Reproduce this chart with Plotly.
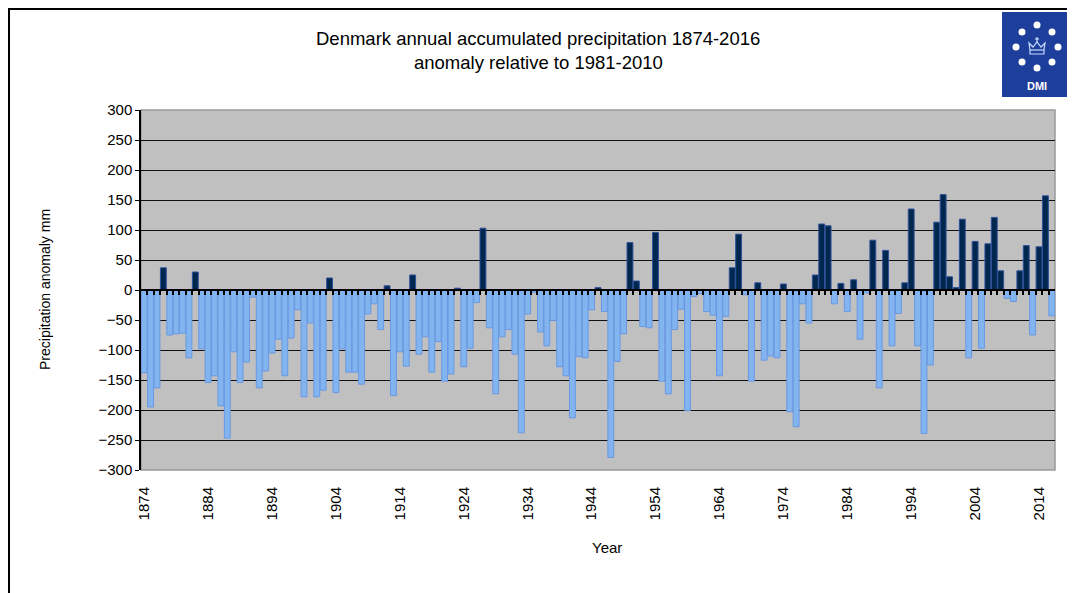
import plotly.graph_objects as go

# Denmark annual precipitation anomaly (mm) relative to 1981-2010
years = list(range(1874, 2017))
anomaly = [
    -138, -195, -163, 37, -75, -73, -72, -113, 30, -98,      # 1874-1883
    -154, -143, -193, -247, -103, -154, -120, -12, -163, -135,  # 1884-1893
    -105, -82, -143, -80, -33, -178, -55, -178, -167, 20,     # 1894-1903
    -171, -98, -137, -137, -157, -40, -23, -66, 7, -176,      # 1904-1913
    -103, -127, 25, -107, -78, -137, -86, -152, -140, 3,      # 1914-1923
    -128, -97, -21, 103, -63, -173, -78, -66, -107, -238,     # 1924-1933
    -40, -4, -70, -93, -51, -128, -143, -213, -111, -113,     # 1934-1943
    -33, 4, -36, -279, -119, -73, 79, 15, -61, -63,           # 1944-1953
    96, -152, -173, -66, -32, -201, -11, -6, -36, -42,        # 1954-1963
    -143, -44, 37, 93, -8, -152, 12, -117, -110, -113,        # 1964-1973
    10, -203, -228, -23, -55, 25, 110, 107, -23, 11,          # 1974-1983
    -36, 17, -82, -5, 83, -163, 66, -93, -39, 12,             # 1984-1993
    135, -93, -239, -125, 113, 159, 22, 4, 118, -113,         # 1994-2003
    81, -97, 77, 121, 32, -14, -19, 32, 74, -75,              # 2004-2013
    72, 157, -43,                                             # 2014-2016
]
label_years = list(range(1874, 2015, 10))
y_ticks = list(range(-300, 301, 50))

FONT = "Liberation Sans, Arial, sans-serif"
POS_FILL, POS_EDGE = "#00284f", "#2f4f9a"
NEG_FILL, NEG_EDGE = "#82b4ef", "#6a98e3"

fill = [POS_FILL if v > 0 else NEG_FILL for v in anomaly]
edge = [POS_EDGE if v > 0 else NEG_EDGE for v in anomaly]

# plot area in page pixels (page body adds an 8px offset)
L, T, W, H = 141, 110, 914, 360


def px(x):
    return (x - L) / W


def py(y):
    return 1 - (y - T) / H


fig = go.Figure()
fig.add_trace(go.Bar(x=years, y=anomaly, marker=dict(color=fill, line=dict(color=edge, width=1)),
                     showlegend=False, xaxis="x2"))
# invisible helper so the zero-line axis gets drawn
fig.add_trace(go.Scatter(x=[years[0]], y=[0], mode="markers", marker=dict(opacity=0),
                         showlegend=False, hoverinfo="skip", xaxis="x"))

xr = [years[0] - 0.5, years[-1] + 0.5]
fig.update_layout(
    width=1067, height=585,
    margin=dict(l=L - 8, r=1067 - (L - 8) - W, t=T - 8, b=585 - (T - 8) - H),
    paper_bgcolor="white", plot_bgcolor="#c0c0c0",
    font=dict(family=FONT, size=15, color="black"),
    bargap=0.08,
    # zero line with a tick between every year
    xaxis=dict(range=xr, anchor="free", position=0.5, showline=True, linecolor="black",
               linewidth=1.5, ticks="outside", ticklen=4, tickwidth=1.5, tickcolor="black",
               tickvals=[y + 0.5 for y in years[:-1]], showticklabels=False,
               showgrid=False, zeroline=False),
    # bottom axis carrying the year labels
    xaxis2=dict(range=xr, overlaying="x", anchor="y", side="bottom", showline=False,
                tickvals=label_years, ticktext=[str(y) for y in label_years], tickangle=-90,
                ticks="outside", ticklen=10, tickcolor="rgba(0,0,0,0)",
                showgrid=False, zeroline=False),
    yaxis=dict(range=[-300, 300], tickvals=y_ticks, showgrid=True, gridcolor="#111111",
               gridwidth=1, showline=True, linecolor="black", linewidth=1.5,
               ticks="outside", ticklen=4, tickcolor="black", zeroline=False),
)

shapes = [
    # plot area border
    dict(type="rect", xref="paper", yref="paper", x0=0, x1=1, y0=0, y1=1,
         line=dict(color="#999999", width=1.5), layer="below"),
    # outer chart border
    dict(type="rect", xref="paper", yref="paper", x0=px(9), x1=px(1100), y0=py(640), y1=py(9),
         line=dict(color="black", width=2)),
    # DMI logo
    dict(type="rect", xref="paper", yref="paper", x0=px(1002), x1=px(1072), y0=py(97), y1=py(12),
         fillcolor="#1d3e9b", line=dict(width=0)),
]
cx, cy = 1037, 47
dots = [(0, -22), (-15, -15), (15, -15), (-21, 0), (21, 0), (-15, 15), (15, 15), (0, 21)]
for dx, dy in dots:
    shapes.append(dict(type="circle", xref="paper", yref="paper",
                       x0=px(cx + dx - 3.5), x1=px(cx + dx + 3.5),
                       y0=py(cy + dy + 3.5), y1=py(cy + dy - 3.5),
                       fillcolor="white", line=dict(width=0)))
# crown outline
crown = [(-7, 7), (7, 7), (7, 3), (8, -4), (4, 0), (0, -5), (-4, 0), (-8, -4), (-7, 3)]
path = "M " + " L ".join(f"{px(cx + a):.5f},{py(cy + b):.5f}" for a, b in crown) + " Z"
shapes.append(dict(type="path", xref="paper", yref="paper", path=path,
                   line=dict(color="#c8dcff", width=1.2)))
shapes.append(dict(type="line", xref="paper", yref="paper", x0=px(cx - 7), x1=px(cx + 7),
                   y0=py(cy + 3), y1=py(cy + 3), line=dict(color="#c8dcff", width=1.2)))
shapes.append(dict(type="line", xref="paper", yref="paper", x0=px(cx), x1=px(cx),
                   y0=py(cy - 5), y1=py(cy - 10), line=dict(color="#c8dcff", width=1.2)))
shapes.append(dict(type="line", xref="paper", yref="paper", x0=px(cx - 2), x1=px(cx + 2),
                   y0=py(cy - 8), y1=py(cy - 8), line=dict(color="#c8dcff", width=1.2)))
fig.update_layout(shapes=shapes)


def note(text, x, y, size, **kw):
    fig.add_annotation(text=text, x=px(x), y=py(y), xref="paper", yref="paper", showarrow=False,
                       xanchor="center", yanchor="middle", font=dict(size=size, **kw.pop("font", {})),
                       **kw)


note("Denmark annual accumulated precipitation 1874-2016", 538, 38, 18.5)
note("anomaly relative to 1981-2010", 538, 62, 18.5)
note("Precipitation anomaly mm", 45, 290, 14, textangle=-90)
note("Year", 607, 547, 15)
note("<b>DMI</b>", cx, 86, 11, font=dict(color="white"))

fig.write_html("out.html")
